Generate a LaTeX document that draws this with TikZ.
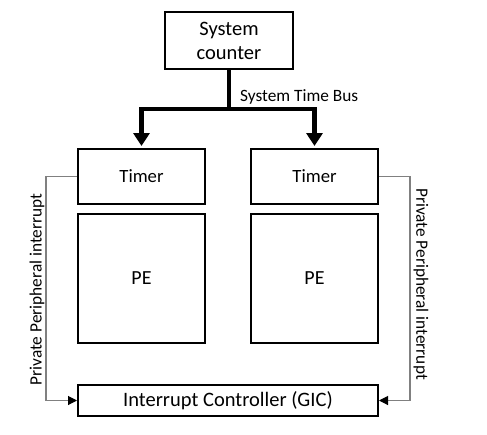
\documentclass[tikz,border=0pt]{standalone}
\usepackage{fontspec}
\setmainfont{Carlito}
\usetikzlibrary{arrows.meta}
\definecolor{siggray}{HTML}{808080}
\begin{document}
\begin{tikzpicture}[x=1pt,y=-1pt,
  blk/.style={draw=black,line width=2pt,minimum width=127pt,inner sep=0pt,align=center},
  bus/.style={line width=4.5pt,-{Triangle[length=13pt,width=16pt]},shorten >=2pt},
  sig/.style={draw=siggray,line width=1.1pt,-{Triangle[length=9pt,width=9pt,black]}},
  lbl/.style={font=\fontsize{17.3}{20}\selectfont,inner sep=0pt}
]
\useasboundingbox (0,0) rectangle (487,434);
\node[blk,minimum width=128pt,minimum height=57pt,font=\fontsize{20.5}{24}\selectfont] (sc) at (229,40.5) {System\\counter};
\node[blk,minimum height=55pt,font=\fontsize{18.7}{22}\selectfont] (t1) at (141.5,176.5) {Timer};
\node[blk,minimum height=55pt,font=\fontsize{18.7}{22}\selectfont] (t2) at (314.5,176.5) {Timer};
\node[blk,minimum height=129pt,font=\fontsize{20}{24}\selectfont] (pe1) at (141.5,278.5) {PE};
\node[blk,minimum height=129pt,font=\fontsize{20}{24}\selectfont] (pe2) at (314.5,278.5) {PE};
\node[blk,minimum width=300pt,minimum height=31pt,font=\fontsize{20.5}{24}\selectfont] (gic) at (228,400.5) {Interrupt Controller (GIC)};
\draw[bus] (sc.south) -- ++(0,39) -| (t1.north);
\draw[bus] (sc.south) -- ++(0,39) -| (t2.north);
\node[lbl,anchor=west] (stb) at (240,97) {System Time Bus};
\draw[sig] (t1.west) -- ++(-31,0) |- (gic.west);
\draw[sig] (t2.east) -- ++(31,0) |- (gic.east);
\node[lbl,rotate=90] (ppi1) at (37,289.5) {Private Peripheral interrupt};
\node[lbl,rotate=-90] (ppi2) at (421,284) {Private Peripheral interrupt};
\end{tikzpicture}
\end{document}
